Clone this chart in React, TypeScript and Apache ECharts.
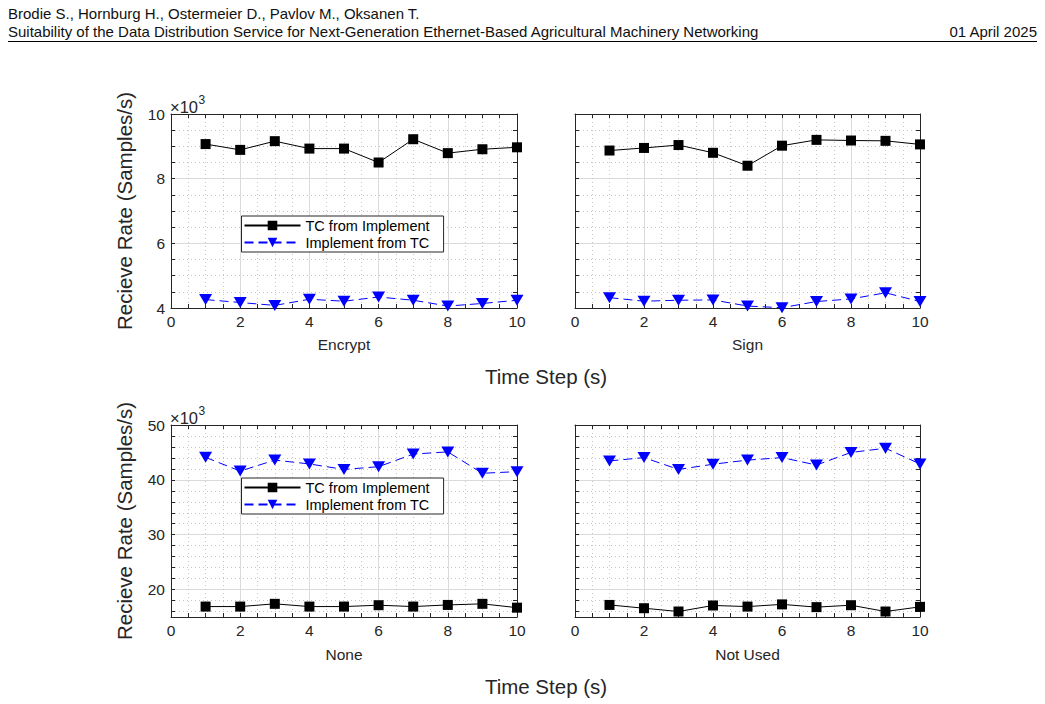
import React, { useEffect, useRef } from 'react';
import * as echarts from 'echarts';

// ---------------- data ----------------
const timeSteps = [1, 2, 3, 4, 5, 6, 7, 8, 9, 10];
const panelTitles = ['Encrypt', 'Sign', 'None', 'Not Used'];
const seriesNames = ['TC from Implement', 'Implement from TC'];

// values in units of 10^3 samples/s
const encryptTC = [9.07, 8.89, 9.16, 8.93, 8.93, 8.5, 9.22, 8.79, 8.91, 8.97];
const encryptImpl = [4.26, 4.17, 4.08, 4.27, 4.21, 4.34, 4.24, 4.06, 4.14, 4.24];
const signTC = [8.87, 8.95, 9.04, 8.8, 8.4, 9.02, 9.2, 9.18, 9.17, 9.06];
const signImpl = [4.32, 4.21, 4.24, 4.25, 4.06, 4.01, 4.2, 4.28, 4.47, 4.2];
const noneTC = [16.9, 16.9, 17.4, 16.9, 16.9, 17.15, 16.9, 17.2, 17.4, 16.7];
const noneImpl = [44.1, 41.6, 43.6, 42.9, 41.9, 42.4, 44.7, 45.1, 41.2, 41.5];
const notUsedTC = [17.2, 16.6, 16.0, 17.1, 16.9, 17.3, 16.8, 17.15, 16.0, 16.85];
const notUsedImpl = [43.45, 44.06, 41.9, 42.85, 43.6, 44.06, 42.7, 45.0, 45.76, 42.9];

const xTicks = [0, 2, 4, 6, 8, 10];
const topYTicks = [4, 6, 8, 10];
const bottomYMin = 15;
const bottomYTicks = [20, 30, 40, 50];
const bottomYMinorStep = 2;

const headerLine1 = 'Brodie S., Hornburg H., Ostermeier D., Pavlov M., Oksanen T.';
const headerLine2 =
  'Suitability of the Data Distribution Service for Next-Generation Ethernet-Based Agricultural Machinery Networking';
const headerDate = '01 April 2025';
const yName = 'Recieve Rate (Samples/s)';
const xName = 'Time Step (s)';

// ---------------- styles ----------------
const FONT = '"Liberation Sans", Arial, Helvetica, sans-serif';
const AX = '#262626';
const TXT = '#262626';
const MAJOR = '#dadada';
const MINOR = '#c4c4c4';
const CLEAR = 'rgba(0,0,0,0)';

const grids = [
  { left: 171, top: 114, width: 346, height: 194 },
  { left: 575, top: 114, width: 345, height: 194 },
  { left: 171, top: 425, width: 346, height: 192 },
  { left: 575, top: 425, width: 345, height: 192 },
];

const panels = [
  { tc: encryptTC, impl: encryptImpl },
  { tc: signTC, impl: signImpl },
  { tc: noneTC, impl: noneImpl },
  { tc: notUsedTC, impl: notUsedImpl },
];

function buildOption(): any {
  const tickLine = { color: AX, width: 1 };
  const xAxis: any[] = [];
  grids.forEach((_, gi) => {
    const base = {
      type: 'value',
      gridIndex: gi,
      min: xTicks[0],
      max: xTicks[xTicks.length - 1],
      interval: xTicks[1] - xTicks[0],
      axisLine: { show: true, onZero: false, lineStyle: { color: AX, width: 1 } },
      axisTick: { show: true, inside: true, length: 4, lineStyle: tickLine },
      minorTick: { show: true, splitNumber: 4, length: 4, lineStyle: tickLine },
    };
    xAxis.push({
      ...base,
      position: 'bottom',
      name: panelTitles[gi],
      nameLocation: 'middle',
      nameGap: gi < 2 ? 28 : 29,
      nameTextStyle: { fontSize: 15.5, color: TXT, fontFamily: FONT },
      axisLabel: { show: true, fontSize: 15.5, color: TXT, margin: 5, fontFamily: FONT },
      splitLine: { show: true, showMinLine: false, showMaxLine: false, lineStyle: { color: MAJOR, width: 1 } },
      minorSplitLine: { show: true, lineStyle: { color: MINOR, width: 1, type: [1, 3] } },
    });
    xAxis.push({
      ...base,
      position: 'top',
      axisLabel: { show: false },
      splitLine: { show: false },
      minorSplitLine: { show: false },
    });
  });

  const yAxis: any[] = [];
  const mainY: number[] = [];
  grids.forEach((_, gi) => {
    const isTop = gi < 2;
    const isLeftCol = gi % 2 === 0;
    const common = {
      type: 'value',
      gridIndex: gi,
      axisLine: { show: true, onZero: false, lineStyle: { color: AX, width: 1 } },
    };
    const nameOpts = isLeftCol
      ? {
          name: yName,
          nameLocation: 'middle',
          nameGap: 36,
          nameTextStyle: { fontSize: 20.5, color: TXT, fontFamily: FONT },
        }
      : {};
    if (isTop) {
      const min = topYTicks[0];
      const max = topYTicks[topYTicks.length - 1];
      const interval = topYTicks[1] - topYTicks[0];
      mainY[gi] = yAxis.length;
      yAxis.push({
        ...common,
        ...nameOpts,
        position: 'left',
        min,
        max,
        interval,
        axisLabel: { show: isLeftCol, fontSize: 15.5, color: TXT, margin: 6, fontFamily: FONT },
        axisTick: { show: true, inside: true, length: 4, lineStyle: tickLine },
        minorTick: { show: true, splitNumber: 4, length: 4, lineStyle: tickLine },
        splitLine: { show: true, showMinLine: false, showMaxLine: false, lineStyle: { color: MAJOR, width: 1 } },
        minorSplitLine: { show: true, lineStyle: { color: MINOR, width: 1, type: [1, 3] } },
      });
      yAxis.push({
        ...common,
        position: 'right',
        min,
        max,
        interval,
        axisLabel: { show: false },
        axisTick: { show: true, inside: true, length: 4, lineStyle: tickLine },
        minorTick: { show: true, splitNumber: 4, length: 4, lineStyle: tickLine },
        splitLine: { show: false },
      });
    } else {
      const min = bottomYMin;
      const max = bottomYTicks[bottomYTicks.length - 1];
      const tickVals: number[] = [];
      for (let v = min + 1; v <= max; v += bottomYMinorStep) tickVals.push(v);
      const minorColors: string[] = [];
      const majorColors: string[] = [];
      for (let v = min; v <= max; v += 1) {
        const inner = v > min && v < max;
        minorColors.push(inner && tickVals.includes(v) && !bottomYTicks.includes(v) ? MINOR : CLEAR);
        majorColors.push(inner && bottomYTicks.includes(v) ? MAJOR : CLEAR);
      }
      mainY[gi] = yAxis.length;
      yAxis.push({
        ...common,
        ...nameOpts,
        position: 'left',
        min,
        max,
        interval: 1,
        axisLabel: {
          show: isLeftCol,
          customValues: bottomYTicks,
          formatter: (v: number) => (bottomYTicks.includes(v) ? String(v) : ''),
          fontSize: 15.5,
          color: TXT,
          margin: 6,
          fontFamily: FONT,
        },
        axisTick: { show: true, inside: true, length: 4, customValues: tickVals, lineStyle: tickLine },
        minorTick: { show: false },
        splitLine: { show: false },
      });
      yAxis.push({
        ...common,
        position: 'right',
        min,
        max,
        interval: 1,
        axisLabel: { show: false },
        axisTick: { show: true, inside: true, length: 4, customValues: tickVals, lineStyle: tickLine },
        minorTick: { show: false },
        splitLine: { show: false },
      });
      // hidden helper axes for grid lines
      yAxis.push({
        type: 'value',
        gridIndex: gi,
        position: 'left',
        min,
        max,
        interval: 1,
        axisLine: { show: false, onZero: false },
        axisTick: { show: false },
        axisLabel: { show: false },
        splitLine: { show: true, lineStyle: { color: minorColors, width: 1, type: [1, 3] } },
      });
      yAxis.push({
        type: 'value',
        gridIndex: gi,
        position: 'left',
        min,
        max,
        interval: 1,
        axisLine: { show: false, onZero: false },
        axisTick: { show: false },
        axisLabel: { show: false },
        splitLine: { show: true, lineStyle: { color: majorColors, width: 1 } },
      });
    }
  });

  const series: any[] = [];
  panels.forEach((p, gi) => {
    series.push({
      name: seriesNames[0],
      type: 'line',
      xAxisIndex: gi * 2,
      yAxisIndex: mainY[gi],
      data: timeSteps.map((x, i) => [x, p.tc[i]]),
      symbol: 'rect',
      symbolSize: 10,
      clip: false,
      lineStyle: { color: '#000000', width: 1 },
      itemStyle: { color: '#000000' },
      emphasis: { disabled: true },
      z: 3,
    });
    series.push({
      name: seriesNames[1],
      type: 'line',
      xAxisIndex: gi * 2,
      yAxisIndex: mainY[gi],
      data: timeSteps.map((x, i) => [x, p.impl[i]]),
      symbol: 'triangle',
      symbolRotate: 180,
      symbolSize: [13, 11],
      clip: false,
      lineStyle: { color: '#0000ff', width: 1, type: [9, 5] },
      itemStyle: { color: '#0000ff' },
      emphasis: { disabled: true },
      z: 3,
    });
  });

  const legendTops = [216, 478];
  const legend = legendTops.map((top) => ({
    data: seriesNames,
    orient: 'vertical',
    left: 241.5,
    top,
    itemWidth: 56,
    itemHeight: 12,
    itemGap: 2,
    padding: [2, 14, 2, 2],
    backgroundColor: '#ffffff',
    borderColor: AX,
    borderWidth: 1,
    selectedMode: false,
    textStyle: { fontSize: 14.5, color: '#000000', fontFamily: FONT },
  }));

  const txt = (text: string, x: number, y: number, size: number, align: string, fill = '#111111') => ({
    type: 'text',
    x,
    y,
    silent: true,
    style: { text, fontSize: size, fontFamily: FONT, fill, align, verticalAlign: 'middle' },
  });

  const graphic: any[] = [
    txt(headerLine1, 8, 13, 15, 'left'),
    txt(headerLine2, 8, 31.5, 15, 'left'),
    txt(headerDate, 1037, 31.5, 15, 'right'),
    {
      type: 'line',
      silent: true,
      shape: { x1: 8, y1: 41.5, x2: 1037, y2: 41.5 },
      style: { stroke: '#000000', lineWidth: 1 },
    },
    txt('\u00d710', 170, 107, 16.5, 'left', TXT),
    txt('3', 198.5, 99.5, 12, 'left', TXT),
    txt('\u00d710', 170, 418, 16.5, 'left', TXT),
    txt('3', 198.5, 410.5, 12, 'left', TXT),
    txt(xName, 546, 376, 20.5, 'center', TXT),
    txt(xName, 546, 686, 20.5, 'center', TXT),
  ];

  return {
    animation: false,
    backgroundColor: '#ffffff',
    textStyle: { fontFamily: FONT },
    grid: grids.map((g) => ({ ...g, containLabel: false, show: false })),
    xAxis,
    yAxis,
    legend,
    series,
    graphic,
  };
}

export default function App() {
  const ref = useRef<HTMLDivElement>(null);
  useEffect(() => {
    if (!ref.current) return;
    const chart = echarts.init(ref.current, null, { renderer: 'svg' });
    chart.setOption(buildOption());
    return () => chart.dispose();
  }, []);
  return (
    <div
      ref={ref}
      style={{ position: 'absolute', left: 0, top: 0, width: 1045, height: 704, background: '#ffffff' }}
    />
  );
}
